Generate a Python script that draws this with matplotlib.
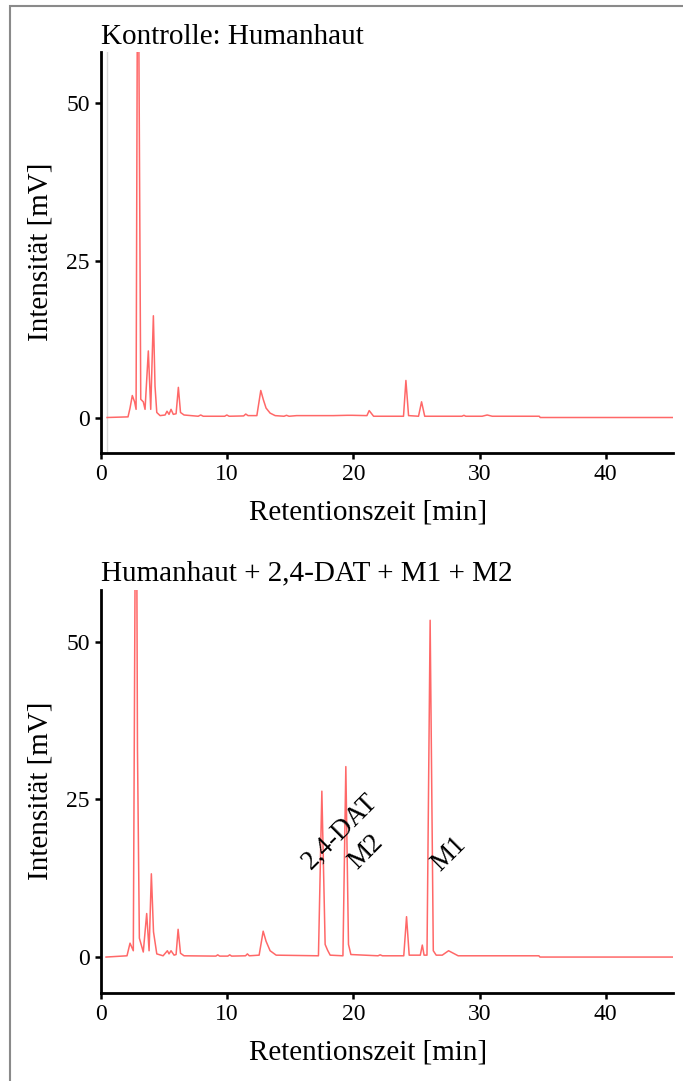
import matplotlib
matplotlib.use('Agg')
import matplotlib.pyplot as plt
from matplotlib.patches import Rectangle

plt.rcParams['font.family'] = ['Liberation Serif', 'DejaVu Serif']

# Chromatogramm-Punkte (Zeit [min], Intensitaet [mV])
t_kontrolle = [0.48, 2.14, 2.30, 2.48, 2.66, 2.78, 2.92, 3.15, 3.35, 3.49, 3.75, 3.94,
               4.15, 4.28, 4.42, 4.68, 5.08, 5.23, 5.39, 5.55, 5.73, 5.95, 6.13, 6.30,
               6.58, 7.7, 7.9, 8.1, 9.8, 9.97, 10.15, 11.3, 11.47, 11.65, 12.35, 12.66,
               12.87, 13.08, 13.4, 13.8, 14.5, 14.7, 14.9, 15.5, 15.9, 18.4, 19.5, 19.9,
               21.07, 21.25, 21.6, 23.97, 24.16, 24.37, 25.16, 25.4, 25.65, 28.6, 28.76,
               28.9, 30.2, 30.6, 31.0, 34.73, 34.8, 45.3]
i_kontrolle = [0.0, 0.1, 1.5, 3.5, 2.5, 1.3, 90.0, 2.9, 2.5, 1.3, 10.6, 1.3,
               16.2, 5.0, 0.8, 0.3, 0.4, 1.0, 0.5, 1.3, 0.5, 0.6, 4.8, 0.8,
               0.4, 0.2, 0.4, 0.2, 0.2, 0.4, 0.2, 0.25, 0.55, 0.3, 0.3, 4.3,
               2.8, 1.5, 0.7, 0.3, 0.2, 0.35, 0.2, 0.3, 0.3, 0.3, 0.35, 0.35,
               0.3, 1.1, 0.2, 0.2, 5.9, 0.3, 0.2, 2.5, 0.2, 0.2, 0.35,
               0.2, 0.2, 0.4, 0.2, 0.2, 0.0, 0.0]

t_probe = [0.40, 2.06, 2.30, 2.56, 2.78, 2.89, 3.04, 3.35, 3.62, 3.81, 3.99, 4.16,
           4.42, 4.92, 5.26, 5.39, 5.55, 5.79, 5.95, 6.11, 6.30, 6.58, 9.1, 9.25,
           9.4, 10.05, 10.2, 10.35, 11.45, 11.6, 11.75, 12.53, 12.85, 13.08, 13.4,
           13.88, 17.23, 17.5, 17.76, 17.95, 18.16, 19.17, 19.4, 19.61, 19.8, 21.95,
           22.12, 22.3, 23.99, 24.21, 24.42, 25.3, 25.46, 25.6, 25.83, 26.08, 26.33,
           26.56, 27.04, 27.54, 28.3, 34.7, 34.78, 45.3]
i_probe = [0.0, 0.2, 2.2, 1.0, 95.0, 33.0, 3.0, 0.8, 6.9, 1.0, 13.2, 4.0,
           0.5, 0.2, 1.0, 0.5, 1.0, 0.3, 0.4, 4.4, 0.6, 0.2, 0.15, 0.35,
           0.15, 0.15, 0.35, 0.15, 0.2, 0.5, 0.2, 0.3, 4.1, 2.5, 1.0,
           0.3, 0.2, 26.3, 2.0, 1.1, 0.3, 0.2, 30.2, 2.0, 0.4, 0.2,
           0.35, 0.2, 0.2, 6.4, 0.3, 0.3, 1.9, 0.3, 0.3, 53.4, 1.0,
           0.3, 0.3, 1.0, 0.2, 0.2, 0.0, 0.0]

titel = ['Kontrolle: Humanhaut', 'Humanhaut + 2,4-DAT + M1 + M2']
peak_namen = ['2,4-DAT', 'M2', 'M1']
peak_x = [18.95, 21.0, 27.6]
peak_y = [19.9, 16.6, 16.4]

x_ticks = [0, 10, 20, 30, 40]
y_ticks = [0, 25, 50]

fig = plt.figure(figsize=(6.83, 10.81), dpi=100)
ax1 = fig.add_axes([101/683, 1 - 453.3/1081, 571.7/683, 401.3/1081])
ax2 = fig.add_axes([101/683, 1 - 993/1081, 571.7/683, 403/1081])

linie = '#ff6868'
ax1.axvline(0.5, color='#d8d8d8', lw=1.0, zorder=1)
ax1.plot(t_kontrolle, i_kontrolle, color=linie, lw=1.1, zorder=2)
ax2.plot(t_probe, i_probe, color=linie, lw=1.1, zorder=2)

for name, px, py in zip(peak_namen, peak_x, peak_y):
    ax2.text(px, py, name, rotation=45, ha='center', va='center', fontsize=19.5)

for ax in (ax1, ax2):
    ax.set_xlim(0, 45.3)
    ax.set_ylim(-5.7, 58.2)
    ax.set_xticks(x_ticks)
    ax.set_yticks(y_ticks)
    for s in ('top', 'right'):
        ax.spines[s].set_visible(False)
    for s in ('left', 'bottom'):
        ax.spines[s].set_linewidth(2.0)
        ax.spines[s].set_color('black')
    ax.tick_params(direction='out', length=4, width=1.8, labelsize=17, pad=4)
    ax.set_xlabel('Retentionszeit [min]', fontsize=21)
    ax.set_ylabel('Intensität [mV]', fontsize=21)
    ax.xaxis.set_label_coords(0.467, -0.148)
    ax.xaxis.label.set_va('center')
    ax.yaxis.set_label_coords(-0.105, 0.502)
    ax.yaxis.label.set_va('center')

fig.text(101/683, 1 - 37/1081, titel[0], fontsize=21, ha='left', va='center')
fig.text(101/683, 1 - 573/1081, titel[1], fontsize=21, ha='left', va='center')

# grauer Rahmen (nur oben und links sichtbar)
fig.patches.append(Rectangle((10/683, -0.1), 1.2, 1 - 6/1081 + 0.1,
                             transform=fig.transFigure, fill=False,
                             edgecolor='#8a8a8a', lw=1.5))

fig.savefig('out.png', dpi=100)
